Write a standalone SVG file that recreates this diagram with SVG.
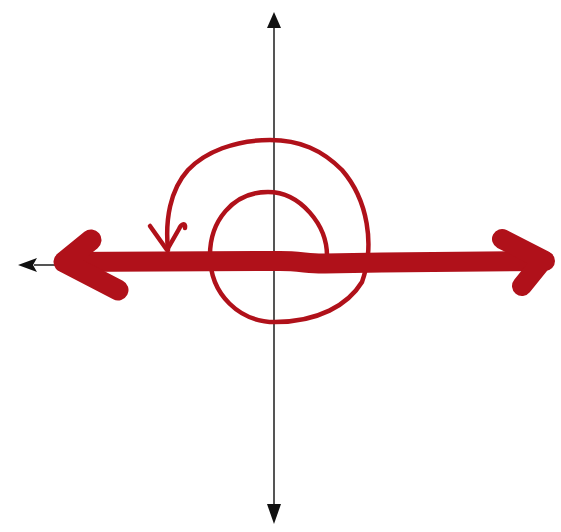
<svg xmlns="http://www.w3.org/2000/svg" width="561" height="532" viewBox="0 0 561 532">
<defs>
<style>
.axis{stroke:#555;stroke-width:2;fill:none}
.head{fill:#111}
.red{stroke:#b0111a;fill:none;stroke-linecap:round;stroke-linejoin:round}
</style>
</defs>
<rect width="561" height="532" fill="#fff"/>
<g id="axes">
<line class="axis" x1="274" y1="24" x2="274" y2="508"/>
<polygon class="head" points="274,12 267,28 281,28"/>
<polygon class="head" points="274,524 267,504 281,504"/>
<line class="axis" x1="34" y1="265" x2="70" y2="265"/>
<polygon class="head" points="18,265 37,258 33,265 37,272"/>
</g>
<g id="spiral">
<path class="red" stroke-width="4.5" d="M327,258 C328,225 300,192 268,192 C232,192 210,222 210,255 C210,295 240,322 275,322 C318,322 348,305 362,282 C375,245 368,200 342,170 C322,150 300,140 270,140 C235,140 205,152 188,170 C170,190 165,220 168,250"/>
<path class="red" stroke-width="4.5" d="M150,226 L167,250 L179,229 C181,224 186,222 185,228"/>
</g>
<g id="red-arrow">
<path class="red" stroke-width="20" d="M64,262 L280,261 C300,261 310,264 325,263.5 C400,262 480,261.5 545,261"/>
<path class="red" stroke-width="21" d="M91,240 L64,262 L118,290"/>
<path class="red" stroke-width="20" d="M502,239 L543,260 L522,286"/>
</g>
</svg>
